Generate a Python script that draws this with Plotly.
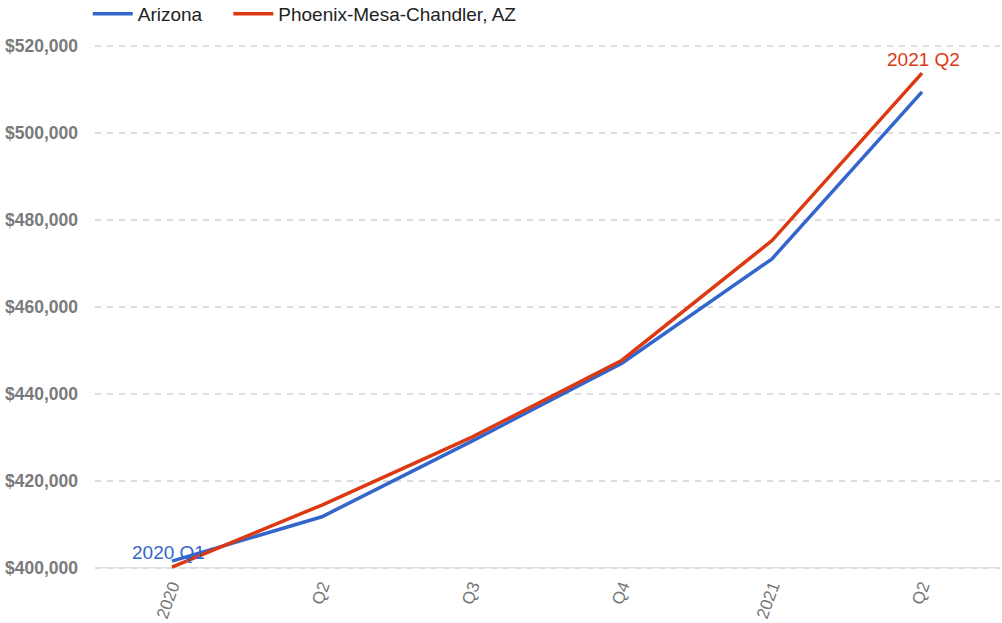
import plotly.graph_objects as go

quarters = ["2020 Q1", "2020 Q2", "2020 Q3", "2020 Q4", "2021 Q1", "2021 Q2"]
tick_labels = ["2020", "Q2", "Q3", "Q4", "2021", "Q2"]
arizona = [401500, 411700, 429100, 447000, 471000, 509400]
phoenix = [400100, 414400, 430000, 447700, 475200, 513700]
y_ticks = [400000, 420000, 440000, 460000, 480000, 500000, 520000]
series_names = ["Arizona", "Phoenix-Mesa-Chandler, AZ"]

BLUE = "#3366CC"
RED = "#DC3912"
FONT = "Liberation Sans, Arial, sans-serif"

xs = list(range(len(quarters)))

fig = go.Figure()
fig.add_trace(go.Scatter(x=xs, y=arizona, mode="lines", name=series_names[0] + "\u00a0" * 4,
                         line=dict(color=BLUE, width=3.5)))
fig.add_trace(go.Scatter(x=xs, y=phoenix, mode="lines", name=series_names[1],
                         line=dict(color=RED, width=3.5)))

fig.add_annotation(x=xs[0], y=arizona[0], text=quarters[0], showarrow=False,
                   xanchor="center", yanchor="bottom", xshift=-3, yshift=-4,
                   font=dict(family=FONT, size=19, color=BLUE))
fig.add_annotation(x=xs[-1], y=phoenix[-1], text=quarters[-1], showarrow=False,
                   xanchor="center", yanchor="bottom", xshift=1, yshift=1,
                   font=dict(family=FONT, size=19, color=RED))

y_lo, y_hi = 399000, 520400
px_per = 522 / 120000
top_px = 46 - (y_hi - 520000) * px_per
bot_px = 568 + (400000 - y_lo) * px_per

fig.update_layout(
    width=1002, height=623,
    margin=dict(l=95, r=2, t=round(top_px), b=round(623 - bot_px), autoexpand=False),
    paper_bgcolor="white", plot_bgcolor="white",
    font=dict(family=FONT, color="#757575"),
    showlegend=True,
    legend=dict(orientation="h", x=-0.008, xanchor="left", y=1.057, yanchor="middle",
                font=dict(family=FONT, size=19, color="#222222"),
                itemwidth=40, bgcolor="rgba(0,0,0,0)", traceorder="normal",
                tracegroupgap=0),
    xaxis=dict(range=[-0.513, 5.52], tickmode="array", tickvals=xs, ticktext=tick_labels,
               tickangle=-70, showgrid=False, zeroline=False, showline=False, ticks="",
               automargin=False,
               tickfont=dict(family=FONT, size=17, color="#757575")),
    yaxis=dict(range=[y_lo, y_hi], tickmode="array", tickvals=y_ticks,
               ticktext=["<b>${:,}</b>".format(v) for v in y_ticks],
               showgrid=True, gridcolor="#dcdcdc", griddash="6px,6px", gridwidth=1.5,
               zeroline=False, showline=False, ticks="", automargin=False,
               ticklabelstandoff=16,
               tickfont=dict(family=FONT, size=17.5, color="#7a7a7a")),
)

fig.add_shape(type="line", xref="paper", yref="y", x0=0, x1=1, y0=y_ticks[0], y1=y_ticks[0],
              line=dict(color="#e3e3e3", width=1.5), layer="below")

fig.write_html("out.html", config={"displayModeBar": False},
               post_script="document.body.style.margin='0';document.body.style.overflow='hidden';")
